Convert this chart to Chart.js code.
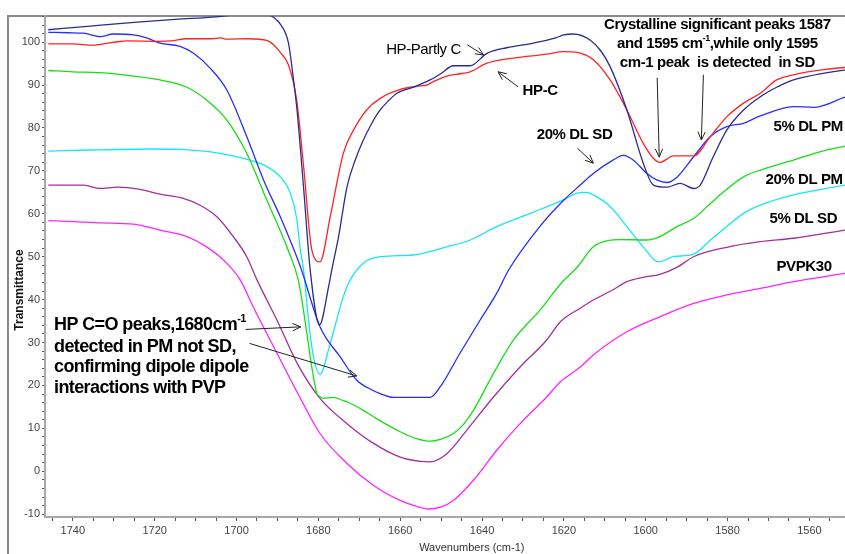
<!DOCTYPE html>
<html>
<head>
<meta charset="utf-8">
<script src="https://cdn.jsdelivr.net/npm/chart.js@4.4.1/dist/chart.umd.min.js"></script>
<style>
    html, body { margin: 0; padding: 0; background: #fff; }
    #contenedor { width: 845px; height: 554px; }
</style>
</head>
<body>
<div id="contenedor"><canvas id="graficaFTIR" width="845" height="554"></canvas></div>
<script>
// espectros: [numero de onda (cm-1), transmitancia]
const hpParcialC = [
    [1746, 102.9], [1735, 103.8], [1725, 104.6], [1715, 105.3], [1705, 105.9], [1698, 106.6],
    [1693, 106.8], [1691, 105.8], [1689.3, 104.2], [1687.3, 99.8], [1686.3, 93], [1685.3, 85],
    [1683.6, 66], [1682, 47], [1679.7, 34.1], [1677.5, 43], [1676.7, 47], [1675, 55],
    [1673, 66.3], [1671, 72.5], [1669, 77.2], [1667, 81], [1664.9, 84.2], [1662.8, 86.4],
    [1660.8, 88.1], [1656.8, 89.5], [1652.7, 91.2], [1650, 92.7], [1647, 94.5], [1642.9, 94.5],
    [1638.8, 97.4], [1634, 98.7], [1627.4, 99.8], [1622, 101], [1620, 101.7], [1617.7, 101.9],
    [1613.6, 100.5], [1611, 98], [1608.7, 94.3], [1604.6, 84.2], [1600.6, 71.8], [1598.1, 66.7],
    [1594.8, 66.2], [1591.6, 67.1], [1588.3, 65.9], [1586.7, 66.7], [1583.5, 73.3], [1580.2, 79.5],
    [1576.1, 84.2], [1572, 87.3], [1568, 89.5], [1563.9, 91.2], [1555.7, 92.9], [1551.3, 93.5]
];
const hpC = [
    [1746, 99.6], [1740, 99.6], [1735, 99.3], [1733.3, 99.5], [1729, 100.1], [1726.8, 100.3],
    [1718.6, 100.2], [1716, 100.3], [1712.1, 100.8], [1706, 100.8], [1704, 101], [1702.4, 100.7],
    [1697, 100.8], [1692.6, 100.4], [1690.5, 99], [1689.3, 97.6], [1687.3, 94.7], [1685.3, 86.5],
    [1683.6, 71], [1681.6, 51.6], [1679.6, 48.8], [1677.1, 59.3], [1673.9, 74.1], [1671.4, 79.5],
    [1668.2, 84.2], [1664.9, 86.9], [1660, 89.0], [1655, 89.8], [1653.5, 90.0], [1651.9, 90.8],
    [1648.6, 92.1], [1645, 92.7], [1642.9, 93.1], [1638.8, 95.1], [1632.3, 96.3], [1624.2, 97.2],
    [1620, 97.8], [1616.8, 97.6], [1612.8, 95.9], [1608.7, 91.2], [1604.6, 84.2], [1600.6, 76.4],
    [1598.1, 72.9], [1596.5, 72.0], [1593.2, 73.5], [1588.3, 73.5], [1584.2, 78.0], [1580.2, 82.6],
    [1576.1, 85.8], [1572, 88.1], [1568, 91.2], [1563.9, 92.4], [1555.7, 93.7], [1551.3, 94.1]
];
const dl20SD = [
    [1746, 102.3], [1741, 102.2], [1737.4, 102.1], [1733.3, 101.3], [1730.1, 101.9], [1725.2, 101.7],
    [1722, 101], [1718.7, 99.8], [1713.8, 99.0], [1710.5, 97.4], [1706.4, 93.9], [1702.4, 88.9],
    [1697.5, 78.0], [1693.4, 67.9], [1689.3, 59.3], [1684.4, 47.7], [1679.6, 33.7], [1674.7, 26.7],
    [1670.6, 21.2], [1667, 19], [1664.9, 18.1], [1661.6, 17.2], [1652.7, 17.2], [1650.2, 19.7],
    [1645.4, 27.5], [1640.5, 35.2], [1636.4, 41.5], [1633.5, 46.9], [1625.9, 57.0], [1620, 63.2],
    [1616, 66.7], [1612.8, 69.4], [1608, 72.5], [1605.5, 73.6], [1603, 72.5], [1599.7, 69.4],
    [1597.3, 67.9], [1594.8, 67.3], [1592.3, 68.6], [1588.3, 73.3], [1584.2, 78.0], [1580.2, 80.3],
    [1576.1, 81.1], [1572, 82.8], [1563.9, 85.0], [1559, 84.8], [1551.3, 87.2]
];
const dl5PM = [
    [1746, 93.4], [1740, 93.1], [1733.3, 92.9], [1725.2, 92.1], [1718.7, 91.2], [1712.1, 89.5],
    [1707.3, 86.5], [1702.4, 81.9], [1697.5, 74.1], [1692.6, 63.2], [1687.7, 52.3], [1684.9, 44.6],
    [1684, 39.8], [1682.8, 32.1], [1681.6, 24.3], [1680.4, 18.2], [1679.7, 17.5], [1678.8, 17.0],
    [1676.3, 17.2], [1674, 16.5], [1673, 16.2], [1669, 14.2], [1666.5, 12.7], [1660, 9.2],
    [1656, 7.6], [1652.7, 7.0], [1650, 7.5], [1647, 8.8], [1644.5, 11], [1642.1, 14.2],
    [1637.2, 22.8], [1632.3, 30.6], [1625.8, 37.6], [1620.5, 44], [1616.8, 47.5], [1612.8, 52.3],
    [1609, 53.8], [1606.3, 54.0], [1599.7, 53.9], [1596.5, 54.7], [1592.4, 57.0], [1588.3, 58.9],
    [1584.2, 62.4], [1580.2, 65.7], [1576.1, 68.6], [1572, 70.2], [1563.9, 72.5], [1557.3, 74.5],
    [1551.3, 75.8]
];
const dl20PM = [
    [1746, 74.6], [1740, 74.8], [1733.3, 74.9], [1721.1, 75.1], [1713.8, 75.0], [1708, 74.6],
    [1704.8, 74.2], [1698.3, 72.9], [1692.6, 71], [1689.3, 68.6], [1686.9, 65.0], [1685.3, 59],
    [1684.4, 51.6], [1683.6, 46.9], [1682.4, 35.2], [1681.2, 26.7], [1679.6, 22.6], [1677.1, 29.8],
    [1673.9, 40.7], [1672.2, 44.6], [1669, 48.5], [1664.9, 50.0], [1656.8, 50.4], [1648.6, 52.3],
    [1642.9, 53.9], [1636.4, 57.0], [1628.2, 60.1], [1620, 63.3], [1616.8, 64.8], [1614.5, 65],
    [1612.8, 64.4], [1608.7, 61.7], [1604.6, 57.0], [1600.6, 52.3], [1596.9, 48.8], [1593.2, 50.0],
    [1588.3, 50.6], [1584.2, 53.9], [1580.2, 57.0], [1576.1, 60.1], [1572, 62.0], [1563.9, 64.4],
    [1551.3, 66.7]
];
const dl5SD = [
    [1746, 66.7], [1737.4, 66.7], [1733.3, 65.9], [1729.2, 66.2], [1723.6, 65.7], [1718.7, 64.6],
    [1713, 63.6], [1708.9, 62.0], [1704.8, 59.3], [1700.8, 54.7], [1697.5, 50.0], [1695, 44.6],
    [1690.1, 35.2], [1684.8, 24.5], [1679.6, 17.0], [1673, 11.1], [1666.5, 6.5], [1660, 3.3],
    [1655, 2.3], [1652.7, 2.2], [1648.6, 4.1], [1643.7, 9.6], [1637.2, 17.3], [1630.7, 24.3],
    [1624.2, 30.6], [1620.9, 34.8], [1616, 38.0], [1612.8, 39.9], [1608, 42.3], [1604.6, 44.2],
    [1600.6, 45.2], [1596.5, 45.9], [1592.4, 47.5], [1588.3, 50.0], [1580.2, 52.2], [1572, 53.5],
    [1563.9, 54.3], [1551.3, 56.2]
];
const pvpk30 = [
    [1746, 58.4], [1740, 58.2], [1733.3, 57.9], [1725.2, 57.6], [1718.7, 56.2], [1712.1, 54.7],
    [1707.3, 52.3], [1702.4, 48.5], [1699.1, 44.6], [1695.9, 38.3], [1690.1, 27.5], [1684.4, 17],
    [1679.6, 8.8], [1673, 1.8], [1666.5, -3.3], [1660, -6.8], [1656, -8.2], [1653, -8.8],
    [1650, -8.3], [1647, -6.8], [1642.1, -2.1], [1636.4, 4.9], [1630.7, 11.1], [1624.2, 17.3],
    [1620.9, 20.8], [1616, 24.3], [1612.8, 27.1], [1604.6, 32.5], [1596.5, 36.0], [1588.3, 39.1],
    [1580.2, 41.1], [1572, 42.6], [1563.9, 44.2], [1551.3, 46.1]
];

// ejes
const etiquetasX = [1740, 1720, 1700, 1680, 1660, 1640, 1620, 1600, 1580, 1560];
const etiquetasY = [-10, 0, 10, 20, 30, 40, 50, 60, 70, 80, 90, 100];
const rangoX = [1551.3, 1746.8];
const rangoY = [-10.66, 106.1];

const FUENTE = "'Liberation Sans', Arial, sans-serif";
const FUENTE_EJE = "'Liberation Sans Narrow', 'Liberation Sans', Arial, sans-serif";

const aPuntos = serie => serie.map(p => ({ x: p[0], y: p[1] }));

function linea(nombre, serie, color) {
    return {
        label: nombre,
        data: aPuntos(serie),
        borderColor: color,
        borderWidth: 1.3,
        pointRadius: 0,
        fill: false,
        cubicInterpolationMode: 'monotone'
    };
}

// texto con superindice: partes = [[texto, esSup], ...]
function textoSup(ctx, partes, x, y, tam, alinear) {
    const anchos = partes.map(([t, sup]) => {
        ctx.font = 'bold ' + (sup ? Math.round(tam * 0.62) : tam) + 'px ' + FUENTE;
        return ctx.measureText(t).width;
    });
    const total = anchos.reduce((a, b) => a + b, 0);
    let cx = alinear === 'center' ? x - total / 2 : x;
    ctx.textAlign = 'left';
    partes.forEach(([t, sup], i) => {
        ctx.font = 'bold ' + (sup ? Math.round(tam * 0.62) : tam) + 'px ' + FUENTE;
        ctx.fillText(t, cx, sup ? y - tam * 0.35 : y);
        cx += anchos[i];
    });
}

function flecha(ctx, x1, y1, x2, y2) {
    const ang = Math.atan2(y2 - y1, x2 - x1), L = 9, abre = 0.42;
    ctx.beginPath();
    ctx.moveTo(x1, y1);
    ctx.lineTo(x2, y2);
    ctx.moveTo(x2 - L * Math.cos(ang - abre), y2 - L * Math.sin(ang - abre));
    ctx.lineTo(x2, y2);
    ctx.lineTo(x2 - L * Math.cos(ang + abre), y2 - L * Math.sin(ang + abre));
    ctx.stroke();
}

// marco, titulos de ejes y anotaciones
const anotaciones = {
    id: 'anotaciones',
    beforeDraw(chart) {
        const { ctx, chartArea: area } = chart;
        ctx.save();
        ctx.strokeStyle = '#8a8a8a';
        ctx.lineWidth = 2;
        ctx.beginPath();
        ctx.moveTo(area.left - 37, chart.height);
        ctx.lineTo(area.left - 37, area.top);
        ctx.lineTo(area.right, area.top);
        ctx.stroke();
        ctx.restore();
    },
    afterDraw(chart) {
        const { ctx, chartArea: area, scales: { x, y } } = chart;
        const P = (w, t) => [x.getPixelForValue(w), y.getPixelForValue(t)];
        ctx.save();

        // titulos de los ejes
        ctx.fillStyle = '#111';
        ctx.font = 'bold 12px ' + FUENTE_EJE;
        ctx.textAlign = 'center';
        ctx.textBaseline = 'middle';
        ctx.translate(area.left - 25, area.top + 274);
        ctx.rotate(-Math.PI / 2);
        ctx.fillText('Transmittance', 0, 0);
        ctx.setTransform(1, 0, 0, 1, 0, 0);
        ctx.fillStyle = '#333';
        ctx.font = '11px ' + FUENTE_EJE;
        ctx.fillText('Wavenumbers (cm-1)', P(1642.5, 0)[0], area.bottom + 31);

        ctx.fillStyle = '#000';
        ctx.strokeStyle = '#222';
        ctx.lineWidth = 1;
        ctx.letterSpacing = '-0.4px';

        // bloque superior
        let p = P(1582.5, 104.0);
        textoSup(ctx, [['Crystalline significant peaks 1587', false]], p[0], p[1], 15, 'center');
        p = P(1582.5, 99.7);
        textoSup(ctx, [['and 1595 cm', false], ['-1', true], [',while only 1595', false]], p[0], p[1], 15, 'center');
        p = P(1582.5, 95.1);
        textoSup(ctx, [['cm-1 peak  is detected  in SD', false]], p[0], p[1], 15, 'center');
        flecha(ctx, ...P(1597.2, 91.7), ...P(1596.7, 73.2));
        flecha(ctx, ...P(1585.9, 92.4), ...P(1586.4, 77.2));

        // etiquetas de las curvas
        ctx.font = '15px ' + FUENTE;
        ctx.textAlign = 'center';
        p = P(1654.3, 98.2);
        ctx.fillText('HP-Partly C', p[0], p[1]);
        flecha(ctx, ...P(1643.6, 99.4), ...P(1639.6, 97.0));
        p = P(1625.8, 88.6);
        textoSup(ctx, [['HP-C', false]], p[0], p[1], 15, 'center');
        flecha(ctx, ...P(1631.2, 89.6), ...P(1636.1, 93.1));
        p = P(1617.4, 78.4);
        textoSup(ctx, [['20% DL SD', false]], p[0], p[1], 15, 'center');
        flecha(ctx, ...P(1616.7, 75.3), ...P(1612.8, 71.8));

        [['5% DL PM', 1560.3, 80.2], ['20% DL PM', 1561.3, 67.9],
         ['5% DL SD', 1561.5, 58.8], ['PVPK30', 1561.3, 47.6]].forEach(([t, w, v]) => {
            const q = P(w, v);
            textoSup(ctx, [[t, false]], q[0], q[1], 15, 'center');
        });

        // bloque izquierdo
        ctx.letterSpacing = '-0.6px';
        const lineas = [
            [[['HP C=O peaks,1680cm', false], ['-1', true]], 34.1],
            [[['detected in PM not SD,', false]], 29.0],
            [[['confirming dipole dipole', false]], 24.3],
            [[['interactions with PVP', false]], 19.4]
        ];
        lineas.forEach(([partes, v]) => {
            const q = P(1744.6, v);
            textoSup(ctx, partes, q[0], q[1], 18, 'left');
        });
        ctx.letterSpacing = '0px';
        flecha(ctx, ...P(1697.8, 33.05), ...P(1684.3, 33.66));
        flecha(ctx, ...P(1696.8, 29.8), ...P(1670.6, 22.2));

        ctx.restore();
    }
};

const ctx = document.getElementById('graficaFTIR').getContext('2d');

window.miGrafica = new Chart(ctx, {
    type: 'line',
    data: {
        datasets: [
            linea('HP-Partly C', hpParcialC, '#2c2c8e'),
            linea('HP-C', hpC, '#ff2424'),
            linea('20% DL SD', dl20SD, '#2b2bff'),
            linea('5% DL PM', dl5PM, '#14e014'),
            linea('20% DL PM', dl20PM, '#14e8f0'),
            linea('5% DL SD', dl5SD, '#a0309a'),
            linea('PVPK30', pvpk30, '#ff24ff')
        ]
    },
    options: {
        responsive: false,
        animation: false,
        devicePixelRatio: 1,
        layout: { padding: { left: 8, top: 16, right: 0, bottom: 0 } },
        plugins: {
            legend: { display: false },
            tooltip: { enabled: false }
        },
        scales: {
            x: {
                type: 'linear',
                reverse: true,
                min: rangoX[0],
                max: rangoX[1],
                afterFit: eje => { eje.height = 37; },
                afterBuildTicks: eje => {
                    const t = [];
                    for (let v = 1555; v <= 1745; v += 5) t.push({ value: v });
                    eje.ticks = t;
                },
                ticks: {
                    autoSkip: false,
                    maxRotation: 0,
                    padding: 3,
                    color: '#444',
                    font: { family: FUENTE_EJE, size: 11 },
                    callback: v => etiquetasX.includes(v) ? String(v) : ''
                },
                grid: {
                    drawOnChartArea: false,
                    tickLength: 4,
                    tickColor: '#555'
                },
                border: { color: '#a8a8a8', width: 2 }
            },
            y: {
                min: rangoY[0],
                max: rangoY[1],
                afterFit: eje => { eje.width = 37; },
                afterBuildTicks: eje => {
                    const t = [];
                    for (let v = -10; v <= 106; v += 2) t.push({ value: v });
                    eje.ticks = t;
                },
                ticks: {
                    autoSkip: false,
                    padding: 2,
                    color: '#444',
                    font: { family: FUENTE_EJE, size: 11 },
                    callback: v => etiquetasY.includes(v) ? String(v) : ''
                },
                grid: {
                    drawOnChartArea: false,
                    tickLength: 3,
                    tickColor: '#555'
                },
                border: { color: '#a8a8a8', width: 2 }
            }
        }
    },
    plugins: [anotaciones]
});
</script>
</body>
</html>
